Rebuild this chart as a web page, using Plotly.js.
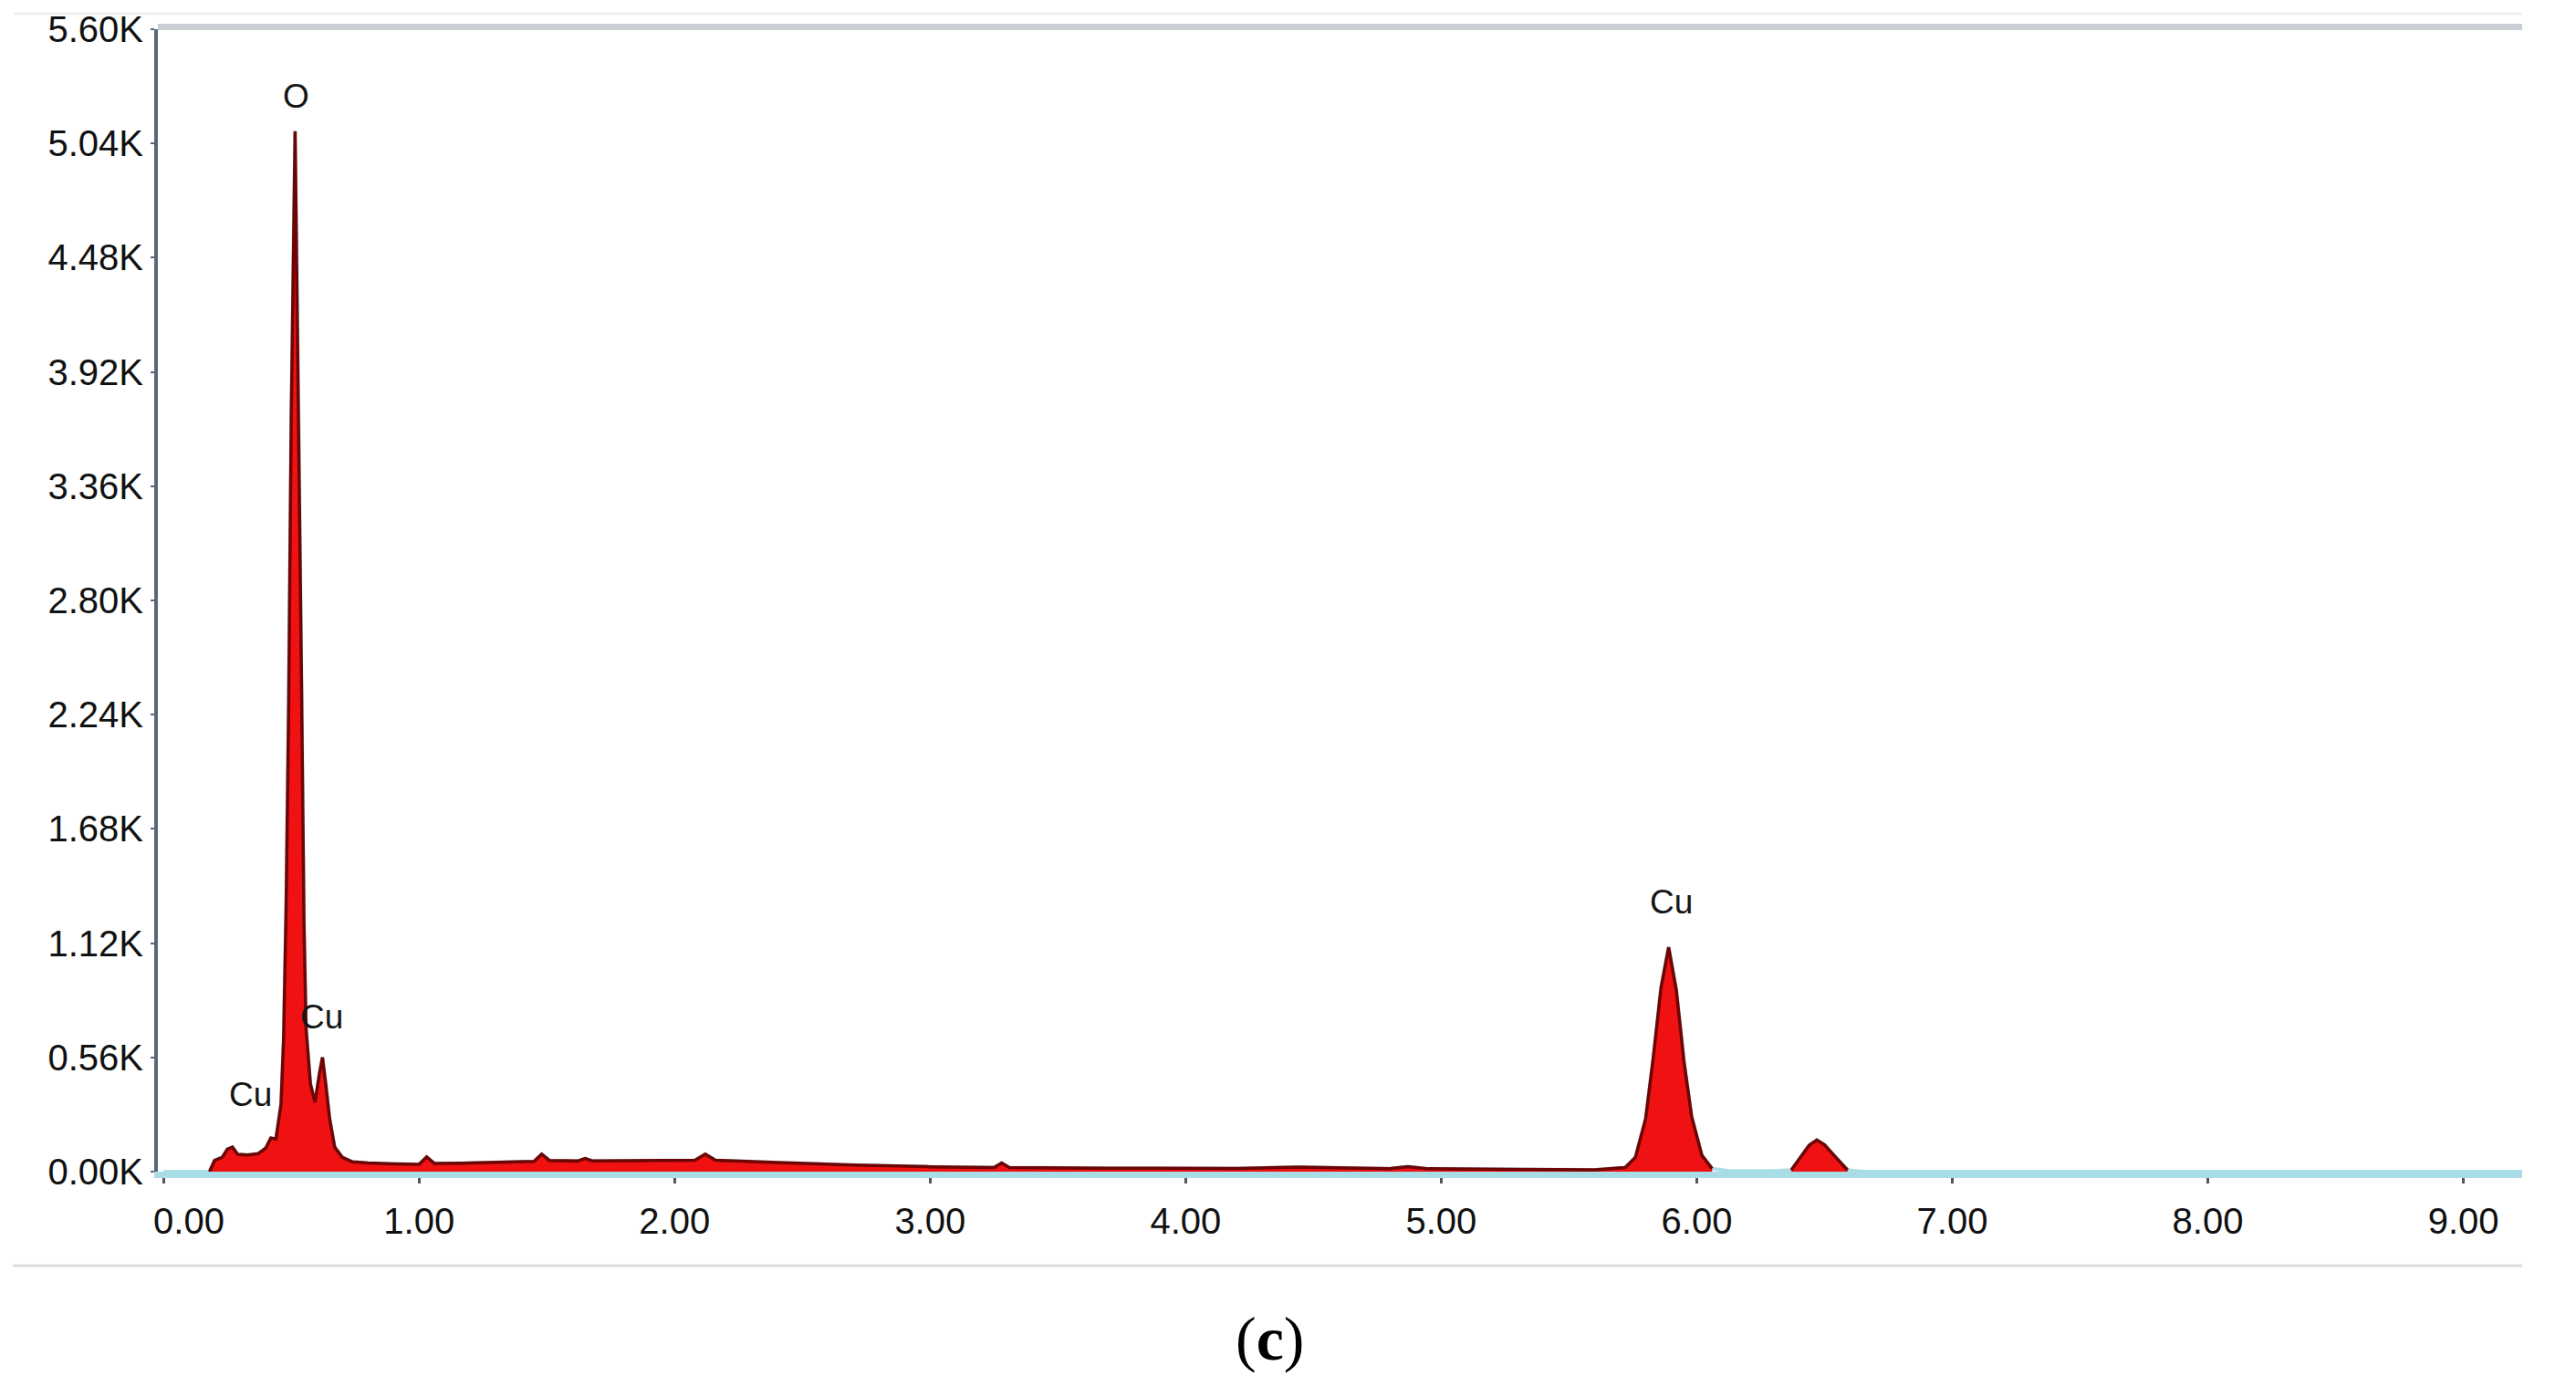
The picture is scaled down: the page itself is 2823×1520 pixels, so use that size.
<!DOCTYPE html>
<html>
<head>
<meta charset="utf-8">
<script src="https://cdn.plot.ly/plotly-3.0.1.min.js"></script>
<style>html,body{margin:0;padding:0;background:#fff;}#chart{width:2823px;height:1520px;}</style>
</head>
<body>
<div id="chart"></div>
<script>
// EDS spectrum (energy in keV, counts)
const energyKeV = [0.00, 0.18, 0.20, 0.23, 0.25, 0.27, 0.29, 0.33, 0.37, 0.40, 0.42, 0.44, 0.46, 0.47, 0.48, 0.49, 0.50, 0.515, 0.53, 0.54, 0.55, 0.558, 0.575, 0.593, 0.61, 0.622, 0.635, 0.65, 0.67, 0.70, 0.74, 0.80, 0.90, 1.00, 1.03, 1.06, 1.20, 1.35, 1.45, 1.48, 1.51, 1.62, 1.65, 1.68, 1.90, 2.08, 2.12, 2.16, 2.40, 2.70, 3.00, 3.25, 3.28, 3.31, 3.70, 4.20, 4.44, 4.80, 4.87, 4.95, 5.30, 5.60, 5.72, 5.76, 5.80, 5.83, 5.86, 5.89, 5.92, 5.95, 5.98, 6.02, 6.06, 6.12, 6.30, 6.37, 6.40, 6.44, 6.47, 6.50, 6.55, 6.59, 6.65, 7.50, 9.25];
const counts    = [0, 0, 55, 70, 110, 120, 85, 82, 88, 115, 165, 160, 330, 650, 1300, 2300, 3700, 5100, 3600, 2400, 1200, 700, 430, 340, 480, 560, 430, 260, 120, 70, 48, 42, 38, 36, 72, 40, 42, 48, 50, 86, 55, 52, 64, 52, 54, 56, 86, 56, 45, 32, 24, 20, 42, 20, 17, 16, 22, 15, 24, 14, 11, 9, 20, 70, 260, 560, 900, 1100, 890, 540, 270, 80, 15, 5, 3, 8, 60, 130, 155, 132, 62, 8, 0, 0, 0];

// Identified peak labels
const peakLabels = ["O", "Cu", "Cu", "Cu"];
const peakLabelX = [0.518, 0.34, 0.62, 5.90];
const peakLabelY = [5270, 380, 760, 1320];

// Axis ticks
const xTickVals = [0, 1, 2, 3, 4, 5, 6, 7, 8, 9];
const xTickText = ["\u00a0\u00a0\u00a0\u00a0\u00a00.00", "1.00", "2.00", "3.00", "4.00", "5.00", "6.00", "7.00", "8.00", "9.00"];
const yTickVals = [0, 560, 1120, 1680, 2240, 2800, 3360, 3920, 4480, 5040, 5600];
const yTickText = ["0.00K", "0.56K", "1.12K", "1.68K", "2.24K", "2.80K", "3.36K", "3.92K", "4.48K", "5.04K", "5.60K"];

const caption = "(<b>c</b>)";

// split the filled spectrum into the red-highlighted segments
function segment(lo, hi) {
  const xs = [], ys = [];
  for (let i = 0; i < energyKeV.length; i++) {
    if (energyKeV[i] >= lo && energyKeV[i] <= hi) { xs.push(energyKeV[i]); ys.push(counts[i]); }
  }
  return {xs, ys};
}
const segA = segment(0.18, 6.08);
const segB = segment(6.36, 6.62);

const fillStyle = {
  type: 'scatter', mode: 'lines', fill: 'tozeroy',
  fillcolor: '#f01212', line: {color: '#6e0404', width: 3.5, shape: 'linear'},
  hoverinfo: 'skip', showlegend: false
};

const traces = [
  {type: 'scatter', mode: 'lines', x: energyKeV, y: counts,
   line: {color: '#a9dde6', width: 4}, hoverinfo: 'skip', showlegend: false},
  Object.assign({}, fillStyle, {x: segA.xs, y: segA.ys}),
  Object.assign({}, fillStyle, {x: segB.xs, y: segB.ys})
];

const tickFont = {family: 'Liberation Sans, Arial, sans-serif', size: 40, color: '#111111'};

const annotations = peakLabels.map((t, i) => ({
  x: peakLabelX[i], y: peakLabelY[i], xref: 'x', yref: 'y', text: t, showarrow: false,
  font: {family: 'Liberation Sans, Arial, sans-serif', size: 37, color: '#151515'},
  xanchor: 'center', yanchor: 'middle'
}));
annotations.push({
  x: 0.4705, y: -0.146, xref: 'paper', yref: 'paper', text: caption, showarrow: false,
  font: {family: 'Liberation Serif, Times New Roman, serif', size: 68, color: '#000'},
  xanchor: 'center', yanchor: 'middle'
});

const layout = {
  width: 2823, height: 1520,
  margin: {l: 173, r: 59, t: 32, b: 236},
  paper_bgcolor: '#ffffff', plot_bgcolor: '#ffffff',
  showlegend: false,
  xaxis: {
    range: [-0.022, 9.23], tickvals: xTickVals, ticktext: xTickText,
    showgrid: false, zeroline: false, showline: true,
    linecolor: '#a9dde6', linewidth: 7,
    ticks: 'outside', ticklen: 6, tickwidth: 3, tickcolor: '#555555',
    tickfont: tickFont, ticklabelstandoff: 7
  },
  yaxis: {
    range: [0, 5600], tickvals: yTickVals, ticktext: yTickText,
    showgrid: false, zeroline: false, showline: true,
    linecolor: '#56697a', linewidth: 4,
    ticks: 'outside', ticklen: 4, tickwidth: 2, tickcolor: '#56697a',
    tickfont: tickFont
  },
  shapes: [
    {type: 'line', xref: 'paper', yref: 'paper', x0: 0, x1: 1, y0: 1.002, y1: 1.002,
     line: {color: '#c8ced3', width: 7}},
    {type: 'line', xref: 'paper', yref: 'paper', x0: -0.061, x1: 1, y0: 1.0136, y1: 1.0136,
     line: {color: '#f0f0f0', width: 3}},
    {type: 'line', xref: 'paper', yref: 'paper', x0: -0.0614, x1: 1, y0: -0.0823, y1: -0.0823,
     line: {color: '#dedede', width: 3}}
  ],
  annotations: annotations
};

Plotly.newPlot('chart', traces, layout, {staticPlot: true, displayModeBar: false});
</script>
</body>
</html>
